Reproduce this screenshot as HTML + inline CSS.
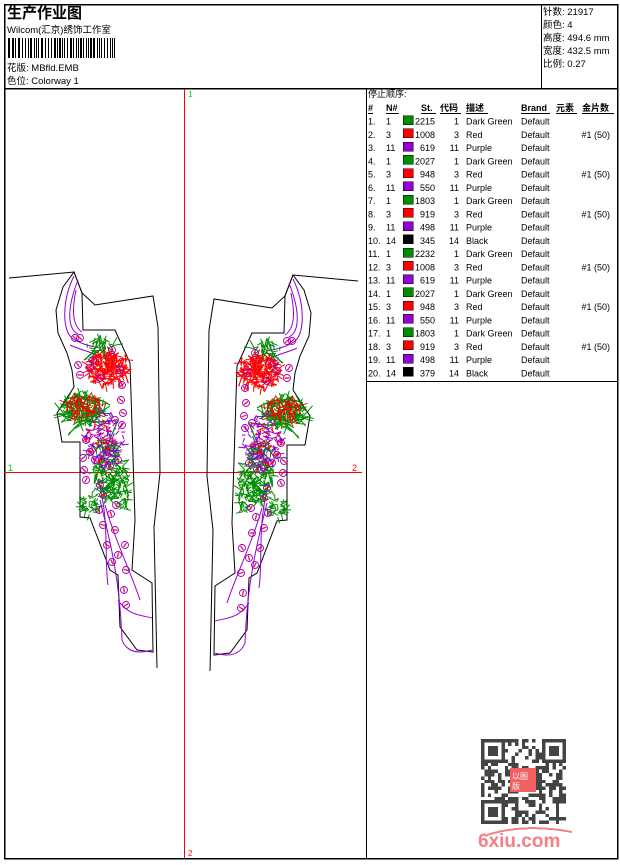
<!DOCTYPE html>
<html><head><meta charset="utf-8">
<style>
html,body{margin:0;padding:0;background:#fff;}
body{width:620px;height:860px;overflow:hidden;position:relative;font-family:"Liberation Sans","Noto Sans CJK SC",sans-serif;}
svg text{font-family:"Liberation Sans","Noto Sans CJK SC",sans-serif;}
</style></head><body>
<svg id="s" width="620" height="860" viewBox="0 0 620 860" xmlns="http://www.w3.org/2000/svg" shape-rendering="crispEdges">
<rect x="0" y="0" width="620" height="860" fill="#fff"/>
<rect x="4.5" y="4.5" width="613" height="854" fill="none" stroke="#000" stroke-width="1.5"/>
<line x1="4" y1="88.5" x2="618" y2="88.5" stroke="#000" stroke-width="1.5"/>
<line x1="541.5" y1="4" x2="541.5" y2="88" stroke="#000"/>
<line x1="366.5" y1="88" x2="366.5" y2="858" stroke="#000"/>
<line x1="366" y1="381.5" x2="618" y2="381.5" stroke="#000"/>
<text x="7" y="18" font-size="15" font-weight="bold" fill="#000">生产作业图</text>
<text x="7" y="33" font-size="9.5" fill="#000">Wilcom(汇京)绣饰工作室</text>
<g id="bar" fill="#000"></g>
<text x="7" y="71" font-size="9.5" fill="#000">花版:  MBfld.EMB</text>
<text x="7" y="84" font-size="9.5" fill="#000">色位:  Colorway 1</text>
<g font-size="9.5" fill="#000">
<text x="543" y="15">针数: 21917</text>
<text x="543" y="28">颜色: 4</text>
<text x="543" y="41">高度: 494.6 mm</text>
<text x="543" y="54">宽度: 432.5 mm</text>
<text x="543" y="67">比例: 0.27</text>
</g>
<line x1="184.5" y1="89" x2="184.5" y2="858" stroke="#f00"/>
<line x1="4" y1="472.5" x2="362" y2="472.5" stroke="#f00"/>
<text x="188" y="97" font-size="8" fill="#0c0">1</text>
<text x="188" y="856" font-size="8" fill="#f00">2</text>
<text x="8" y="471" font-size="9" fill="#0c0">1</text>
<text x="352" y="471" font-size="9" fill="#f00">2</text>
<g id="piece" fill="none" shape-rendering="auto">
<polyline points="9,278 74,272 82,293 95,305 153,296 158,327 160,473 154,527 157,668" stroke="#000" stroke-width="1"/>
<polygon points="74,272 63,287 56,310 58,333 67,353 72,370 74,387 57,413 62,442 80,442 80,517 90,518 110,570 118,575 120,627 137,650 153,652 152,583 132,570 135,520 130,363 115,330 83,330 82,293" stroke="#000" stroke-width="1"/>
<g id="emb"></g>
</g>
<use href="#piece" transform="translate(367,3) scale(-1,1)"/>
<text x="368" y="97" font-size="9" fill="#000">停止顺序:</text>
<g font-size="9" font-weight="bold" fill="#000">
<text x="368" y="111">#</text><text x="386" y="111">N#</text>
<text x="421" y="111">St.</text><text x="440" y="111">代码</text><text x="466" y="111">描述</text>
<text x="521" y="111">Brand</text><text x="556" y="111">元素</text><text x="582" y="111">金片数</text>
</g>
<g stroke="#000" stroke-width="1">
<line x1="368" y1="113.5" x2="373" y2="113.5"/><line x1="386" y1="113.5" x2="399" y2="113.5"/>
<line x1="421" y1="113.5" x2="436" y2="113.5"/><line x1="440" y1="113.5" x2="461" y2="113.5"/>
<line x1="466" y1="113.5" x2="488" y2="113.5"/><line x1="521" y1="113.5" x2="550" y2="113.5"/>
<line x1="556" y1="113.5" x2="577" y2="113.5"/><line x1="582" y1="113.5" x2="614" y2="113.5"/>
</g>
<g id="rows" font-size="9" fill="#000"></g>
<g id="qr" fill="#444"></g>
<rect x="510" y="768" width="26" height="24" fill="#f06060"/>
<text x="512" y="779" font-size="8" fill="#fff">以图</text>
<text x="512" y="789" font-size="8" fill="#fff">版</text>
<text x="478" y="847" font-size="19" font-weight="bold" fill="#f47f86">6xiu.com</text>
<path d="M487 835 Q525 823 572 832" stroke="#f47f86" stroke-width="2" fill="none"/>
</svg>
<script>
var NS="http://www.w3.org/2000/svg";
function el(p,t,a){var e=document.createElementNS(NS,t);for(var k in a)e.setAttribute(k,a[k]);p.appendChild(e);return e;}
var seed=7;function r(){seed=(seed*16807)%2147483647;return seed/2147483647;}
var bar=document.getElementById('bar');var x=8;
while(x<116){var w=r()<0.4?2:1;el(bar,'rect',{x:x,y:38,width:w,height:20});x+=w+(r()<0.5?1:2);}
var data=[["1","1","g","2215","1","Dark Green",""],["2","3","r","1008","3","Red","#1 (50)"],["3","11","p","619","11","Purple",""],["4","1","g","2027","1","Dark Green",""],["5","3","r","948","3","Red","#1 (50)"],["6","11","p","550","11","Purple",""],["7","1","g","1803","1","Dark Green",""],["8","3","r","919","3","Red","#1 (50)"],["9","11","p","498","11","Purple",""],["10","14","k","345","14","Black",""],["11","1","g","2232","1","Dark Green",""],["12","3","r","1008","3","Red","#1 (50)"],["13","11","p","619","11","Purple",""],["14","1","g","2027","1","Dark Green",""],["15","3","r","948","3","Red","#1 (50)"],["16","11","p","550","11","Purple",""],["17","1","g","1803","1","Dark Green",""],["18","3","r","919","3","Red","#1 (50)"],["19","11","p","498","11","Purple",""],["20","14","k","379","14","Black",""]];
var col={g:"#008c00",r:"#ff0000",p:"#9400d3",k:"#000"};
var rows=document.getElementById('rows');
data.forEach(function(d,i){var y=124.5+i*13.26;
el(rows,'text',{x:368,y:y}).textContent=d[0]+".";
el(rows,'text',{x:386,y:y}).textContent=d[1];
el(rows,'rect',{x:403,y:y-9,width:10,height:9,fill:col[d[2]],stroke:"#000","stroke-width":0.5});
el(rows,'text',{x:435,y:y,"text-anchor":"end"}).textContent=d[3];
el(rows,'text',{x:459,y:y,"text-anchor":"end"}).textContent=d[4];
el(rows,'text',{x:466,y:y}).textContent=d[5];
el(rows,'text',{x:521,y:y}).textContent="Default";
if(d[6])el(rows,'text',{x:610,y:y,"text-anchor":"end"}).textContent=d[6];
});
var qr=document.getElementById('qr');var ox=481,oy=739,m=3.4;
for(var i=0;i<25;i++)for(var j=0;j<25;j++){var f=(i<7&&j<7)||(i<7&&j>17)||(i>17&&j<7);if(f)continue;if(r()<0.5)el(qr,'rect',{x:ox+i*m,y:oy+j*m,width:m,height:m});}
[[0,0],[18,0],[0,18]].forEach(function(p){var X=ox+p[0]*m,Y=oy+p[1]*m;el(qr,'rect',{x:X+m/2,y:Y+m/2,width:6*m,height:6*m,fill:"none",stroke:"#444","stroke-width":m});el(qr,'rect',{x:X+2*m,y:Y+2*m,width:3*m,height:3*m});});
var emb=document.getElementById('emb');
function lines(cx,cy,rx,ry,n,c,len){for(var i=0;i<n;i++){var a=r()*6.28,d=Math.sqrt(r());var x1=cx+Math.cos(a)*rx*d,y1=cy+Math.sin(a)*ry*d;var b=r()*6.28,L=len*(0.4+r());el(emb,'line',{x1:x1,y1:y1,x2:x1+Math.cos(b)*L,y2:y1+Math.sin(b)*L,stroke:c,"stroke-width":1});}}
function circ(cx,cy,rr){el(emb,'circle',{cx:cx,cy:cy,r:rr,stroke:"#9400d3","stroke-width":0.9});var a=r()*6.28;el(emb,'line',{x1:cx-Math.cos(a)*2.5,y1:cy-Math.sin(a)*2.5,x2:cx+Math.cos(a)*2.5,y2:cy+Math.sin(a)*2.5,stroke:"#f00","stroke-width":1.2});}
["M74,276 C62,300 62,330 72,338 C80,344 90,346 100,348","M78,280 C68,305 66,328 78,334","M76,290 C72,310 72,325 82,332","M100,500 C110,540 120,580 122,640 C126,650 135,655 152,650","M105,505 C115,540 130,570 140,600","M118,600 C128,615 140,615 152,618","M98,480 C110,520 104,560 108,585","M70,345 C80,350 95,352 110,362"].forEach(function(d){el(emb,'path',{d:d,stroke:"#9400d3","stroke-width":1});});
["M100,335 C104,350 106,360 108,372","M98,340 C96,350 90,356 84,360","M118,420 C110,440 100,460 96,480","M84,420 C70,430 66,440 70,432","M64,400 C75,395 95,395 110,405","M62,415 C75,420 95,425 112,420"].forEach(function(d){el(emb,'path',{d:d,stroke:"#008c00","stroke-width":1.3});});
lines(82,410,22,14,200,"#008c00",8);
lines(108,470,16,32,180,"#008c00",7);
lines(120,490,10,22,80,"#008c00",6);
lines(90,505,10,10,50,"#008c00",6);
lines(100,350,14,12,40,"#008c00",9);
lines(108,368,20,16,260,"#f00",7);
lines(85,405,18,10,60,"#f00",8);
lines(100,440,14,22,50,"#f00",5);
lines(105,440,18,30,110,"#9400d3",6);
[[75,338],[80,338],[120,370],[122,385],[121,400],[123,413],[115,420],[122,425],[86,440],[90,452],[83,458],[95,460],[106,450],[110,466],[100,485],[118,460],[84,470],[86,480],[103,495],[99,510],[111,514],[116,505],[103,525],[115,530],[125,545],[107,545],[118,555],[112,562],[126,570],[124,590],[126,605],[100,378],[90,368],[93,360],[112,350],[78,365],[80,375]].forEach(function(p){circ(p[0],p[1],3.5);});
</script>
</body></html>
